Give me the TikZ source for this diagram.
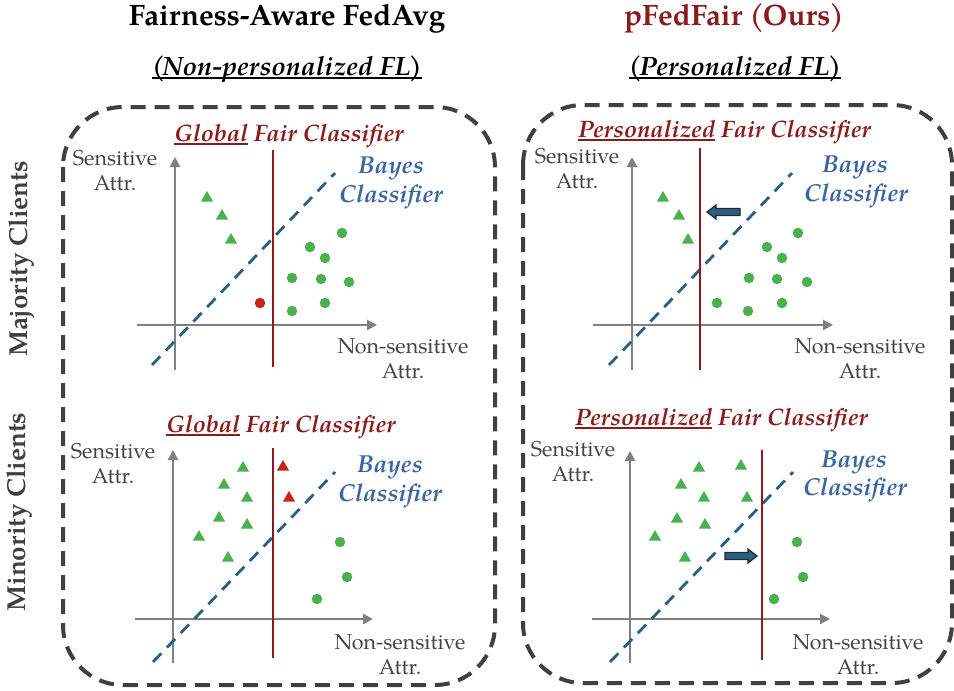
\documentclass[tikz,border=0pt]{standalone}
\usepackage{fontspec}
\setmainfont{texgyrepagella}[Extension=.otf, UprightFont=*-regular, BoldFont=*-bold, ItalicFont=*-italic, BoldItalicFont=*-bolditalic]
\usetikzlibrary{shapes.geometric,arrows.meta}
\definecolor{dred}{HTML}{8B1C1C}
\definecolor{bluetxt}{HTML}{3B66A3}
\definecolor{bluedash}{HTML}{2B5E84}
\definecolor{mgreen}{HTML}{4CAF50}
\definecolor{mred}{HTML}{C62418}
\definecolor{axgray}{HTML}{808080}
\definecolor{txtgray}{HTML}{444444}
\definecolor{boxgray}{HTML}{404040}
\definecolor{arrfill}{HTML}{2C5E80}
\definecolor{arrdraw}{HTML}{1B2B3B}
\newcommand{\myul}[1]{\setbox0\hbox{#1}\rlap{\rule[-0.15em]{\wd0}{0.075em}}\box0\relax}
\tikzset{
  boxdash/.style={draw=boxgray, line width=4pt, dash pattern=on 15pt off 9pt, rounded corners=60pt},
  axis/.style={draw=axgray, line width=2.8pt, -{Triangle[length=10pt,width=10pt]}},
  fairline/.style={draw=dred, line width=2.8pt},
  bayesline/.style={draw=bluedash, line width=2.8pt, dash pattern=on 12pt off 8pt},
  axlabel/.style={text=txtgray, font=\fontsize{21.5}{25}\selectfont, inner sep=0pt, anchor=base},
  bayeslabel/.style={text=bluetxt, font=\fontsize{24.5}{28}\selectfont\bfseries\itshape, inner sep=0pt, anchor=base},
  fairlabel/.style={text=dred, font=\fontsize{23.8}{28}\selectfont\bfseries\itshape, inner sep=0pt, anchor=base},
  title/.style={font=\fontsize{29.5}{33}\selectfont\bfseries, inner sep=0pt, anchor=base},
  subtitle/.style={font=\fontsize{26.5}{30}\selectfont\bfseries\itshape, inner sep=0pt, anchor=base},
  rowlabel/.style={text=boxgray, font=\fontsize{26}{30}\selectfont\bfseries, inner sep=0pt, rotate=90},
  tri/.style={regular polygon, regular polygon sides=3, fill=mgreen, minimum size=14pt, inner sep=0pt},
  rtri/.style={tri, fill=mred},
  dot/.style={circle, fill=mgreen, minimum size=10.5pt, inner sep=0pt},
  rdot/.style={dot, fill=mred},
  blockarrow/.style={fill=arrfill, draw=arrdraw, line width=1.2pt, line join=miter},
}
\begin{document}
\begin{tikzpicture}[x=1pt,y=-1pt]
\useasboundingbox (0,0) rectangle (954,691);

% titles
\node[title] (t1) at (287,25) {Fairness-Aware FedAvg};
\node[title, text=dred] (t2) at (734,25) {pFedFair (\kern-0.04em Ours\kern-0.04em)};
\node[subtitle] (s1) at (287,75) {\myul{(\kern-0.1em Non-personalized FL\kern-0.06em)}};
\node[subtitle] (s2) at (735,75) {\myul{(\kern-0.1em Personalized FL\kern-0.06em)}};

% row labels
\node[rowlabel] (r1) at (22,259) {Majority Clients};
\node[rowlabel] (r2) at (20,512) {Minority Clients};

% dashed boxes
\draw[boxdash] (63,107) rectangle (495,685);
\draw[boxdash] (523,105) rectangle (952,683);

% ===== Panel 1 (majority, FedAvg)
\coordinate (p1yb) at (175,370); \coordinate (p1yt) at (175,157);
\coordinate (p1xl) at (137,325); \coordinate (p1xr) at (377,325);
\coordinate (p1ft) at (273,150); \coordinate (p1fb) at (273,367);
\coordinate (p1bl) at (152,365); \coordinate (p1bt) at (335,173);
\draw[axis] (p1yb) -- (p1yt);
\draw[axis] (p1xl) -- (p1xr);
\draw[bayesline] (p1bl) -- (p1bt);
\draw[fairline] (p1ft) -- (p1fb);
\node[fairlabel] (p1t) at (289,141) {\myul{Global} Fair Classifier};
\node[axlabel] (p1s1) at (115,165) {Sensitive};
\node[axlabel] (p1s2) at (115,190) {Attr.};
\node[axlabel] (p1n1) at (403,353) {Non-sensitive};
\node[axlabel] (p1n2) at (403,378) {Attr.};
\node[bayeslabel] (p1b1) at (391,173) {Bayes};
\node[bayeslabel] (p1b2) at (391,202) {Classifier};
\node[tri] (p1a1) at (207,198) {};
\node[tri] (p1a2) at (222,216) {};
\node[tri] (p1a3) at (231,240) {};
\node[dot] (p1c1) at (342,233) {};
\node[dot] (p1c2) at (310,247) {};
\node[dot] (p1c3) at (325,258) {};
\node[dot] (p1c4) at (292,278) {};
\node[dot] (p1c5) at (321,279) {};
\node[dot] (p1c6) at (349,282) {};
\node[dot] (p1c7) at (325,303) {};
\node[dot] (p1c8) at (292,311) {};
\node[rdot] (p1r1) at (260,303) {};

% ===== Panel 2 (majority, pFedFair)
\coordinate (p2yb) at (632,370); \coordinate (p2yt) at (632,157);
\coordinate (p2xl) at (593,325); \coordinate (p2xr) at (833,325);
\coordinate (p2ft) at (700,148); \coordinate (p2fb) at (700,370);
\coordinate (p2bl) at (609,365); \coordinate (p2bt) at (792,173);
\draw[axis] (p2yb) -- (p2yt);
\draw[axis] (p2xl) -- (p2xr);
\draw[bayesline] (p2bl) -- (p2bt);
\draw[fairline] (p2ft) -- (p2fb);
\node[fairlabel] (p2t) at (724.5,137) {\myul{Personalized} Fair Classifier};
\node[axlabel] (p2s1) at (577,163) {Sensitive};
\node[axlabel] (p2s2) at (577,188) {Attr.};
\node[axlabel] (p2n1) at (860,353) {Non-sensitive};
\node[axlabel] (p2n2) at (860,378) {Attr.};
\node[bayeslabel] (p2b1) at (855,172) {Bayes};
\node[bayeslabel] (p2b2) at (856,201) {Classifier};
\node[tri] (p2a1) at (663,198) {};
\node[tri] (p2a2) at (679,216) {};
\node[tri] (p2a3) at (688,240) {};
\node[dot] (p2c1) at (798,233) {};
\node[dot] (p2c2) at (767,247) {};
\node[dot] (p2c3) at (782,258) {};
\node[dot] (p2c4) at (749,278) {};
\node[dot] (p2c5) at (777,279) {};
\node[dot] (p2c6) at (807,282) {};
\node[dot] (p2c7) at (782,303) {};
\node[dot] (p2c8) at (717,303) {};
\node[dot] (p2c9) at (748,311) {};
\draw[blockarrow] (707,212) -- (716,205) -- (716,208.5) -- (740,208.5) -- (740,215.5) -- (716,215.5) -- (716,219) -- cycle;

% ===== Panel 3 (minority, FedAvg)
\coordinate (p3yb) at (173,663); \coordinate (p3yt) at (173,450);
\coordinate (p3xl) at (135,619); \coordinate (p3xr) at (373,619);
\coordinate (p3ft) at (273,448); \coordinate (p3fb) at (273,658);
\coordinate (p3bl) at (153,662); \coordinate (p3bt) at (335,472);
\draw[axis] (p3yb) -- (p3yt);
\draw[axis] (p3xl) -- (p3xr);
\draw[bayesline] (p3bl) -- (p3bt);
\draw[fairline] (p3ft) -- (p3fb);
\node[fairlabel] (p3t) at (281,432) {\myul{Global} Fair Classifier};
\node[axlabel] (p3s1) at (113,458) {Sensitive};
\node[axlabel] (p3s2) at (113,483) {Attr.};
\node[axlabel] (p3n1) at (400,649) {Non-sensitive};
\node[axlabel] (p3n2) at (400,674) {Attr.};
\node[bayeslabel] (p3b1) at (390,472) {Bayes};
\node[bayeslabel] (p3b2) at (390,501) {Classifier};
\node[tri] (p3a1) at (243,468) {};
\node[tri] (p3a2) at (224,485) {};
\node[tri] (p3a3) at (247,498) {};
\node[tri] (p3a4) at (219,518) {};
\node[tri] (p3a5) at (247,525) {};
\node[tri] (p3a6) at (199,537) {};
\node[tri] (p3a7) at (228,558) {};
\node[rtri] (p3r1) at (283,467) {};
\node[rtri] (p3r2) at (289,498) {};
\node[dot] (p3c1) at (340,542) {};
\node[dot] (p3c2) at (347,577) {};
\node[dot] (p3c3) at (317,599) {};

% ===== Panel 4 (minority, pFedFair)
\coordinate (p4yb) at (630,663); \coordinate (p4yt) at (630,451);
\coordinate (p4xl) at (592,619); \coordinate (p4xr) at (830,619);
\coordinate (p4ft) at (762,450); \coordinate (p4fb) at (762,660);
\coordinate (p4bl) at (610,662); \coordinate (p4bt) at (793,472);
\draw[axis] (p4yb) -- (p4yt);
\draw[axis] (p4xl) -- (p4xr);
\draw[bayesline] (p4bl) -- (p4bt);
\draw[fairline] (p4ft) -- (p4fb);
\node[fairlabel] (p4t) at (721.5,425) {\myul{Personalized} Fair Classifier};
\node[axlabel] (p4s1) at (573,456) {Sensitive};
\node[axlabel] (p4s2) at (573,481) {Attr.};
\node[axlabel] (p4n1) at (858,649) {Non-sensitive};
\node[axlabel] (p4n2) at (858,674) {Attr.};
\node[bayeslabel] (p4b1) at (854,467) {Bayes};
\node[bayeslabel] (p4b2) at (855,495) {Classifier};
\node[tri] (p4a1) at (699,468) {};
\node[tri] (p4a2) at (741,466) {};
\node[tri] (p4a3) at (681,485) {};
\node[tri] (p4a4) at (704,498) {};
\node[tri] (p4a5) at (747,498) {};
\node[tri] (p4a6) at (677,519) {};
\node[tri] (p4a7) at (705,525) {};
\node[tri] (p4a8) at (655,537) {};
\node[tri] (p4a9) at (685,558) {};
\node[dot] (p4c1) at (797,542) {};
\node[dot] (p4c2) at (803,577) {};
\node[dot] (p4c3) at (774,599) {};
\draw[blockarrow] (757,556) -- (748,549) -- (748,552.5) -- (725,552.5) -- (725,559.5) -- (748,559.5) -- (748,563) -- cycle;
\end{tikzpicture}
\end{document}
